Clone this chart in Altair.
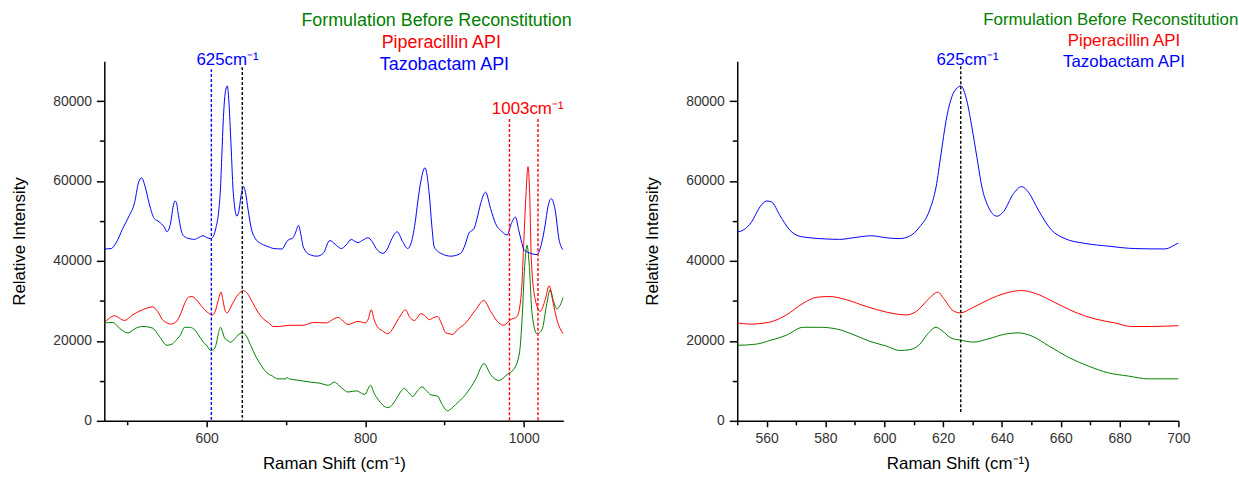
import altair as alt
import pandas as pd

# ---------------- data ----------------
SERIES = ["Formulation Before Reconstitution", "Piperacillin API", "Tazobactam API"]
COLORS = ["#008000", "#FF0000", "#0000FF"]

taz_x = [470.8, 479.6, 485.9, 494.2, 502.6, 508.8, 514.3, 518.0, 522.6, 527.7, 534.0, 540.2, 546.5,
         550.0, 552.0, 554.9, 557.7, 560.0, 561.7, 564.5, 567.9, 570.7, 574.7, 580.3, 584.8, 589.4,
         595.6, 600.7, 605.2, 608.6, 612.0, 615.4, 617.6, 619.3, 621.0, 623.3, 624.8, 626.0, 628.1,
         629.8, 631.5, 633.2, 635.4, 638.3, 640.5, 643.9, 646.7, 649.0, 652.4, 656.9, 661.4, 668.2,
         676.2, 685.2, 695.4, 700.1, 704.0, 708.0, 712.0, 716.0, 719.0, 722.0, 730.0, 739.0, 747.0,
         755.5, 762.0, 766.0, 770.0, 776.0, 782.6, 787.0, 791.0, 797.0, 803.5, 809.0, 814.0, 822.3,
         828.0, 832.8, 840.3, 847.4, 853.7, 858.0, 862.9, 866.5, 870.4, 875.4, 880.8, 884.0, 887.1,
         895.5, 908.0, 920.5, 926.0, 931.0, 937.3, 941.0, 945.6, 951.9, 958.2, 964.4, 972.8, 979.1,
         984.5, 989.5, 993.7, 997.0, 1000.0, 1006.2, 1016.7, 1023.0, 1027.0, 1030.5, 1034.7, 1039.7,
         1044.7, 1050.1]
taz_y = [43000, 43100, 44550, 48100, 51400, 54300, 59700, 60800, 58500, 54300, 50600, 49800, 48500,
         47300, 47700, 49800, 53500, 55000, 54750, 51400, 47700, 46300, 45800, 45500, 45400, 45800,
         46300, 45800, 45600, 46200, 48500, 52700, 58500, 66800, 75100, 81700, 83300, 83800, 80000,
         73400, 65900, 58500, 53500, 51200, 52300, 56800, 58600, 57200, 52700, 47700, 45600, 44400,
         43700, 43100, 43000, 44500, 45400, 45600, 47000, 48900, 46500, 43500, 41600, 41200, 41900,
         45100, 44200, 43500, 43100, 44000, 45400, 44900, 44600, 45200, 45800, 44800, 43100, 41900,
         43000, 45200, 47300, 44800, 43100, 44500, 49400, 55000, 60100, 63300, 56800, 49000, 43500,
         41900, 41200, 41900, 44000, 47000, 48100, 50500, 54300, 57200, 53100, 49400, 47300, 46500,
         49400, 51000, 47700, 45000, 42900, 42100, 41600, 44800, 49000, 53500, 55600, 52700,
         45200, 42700]

pip_x = [470.8, 477.5, 483.8, 490.0, 496.3, 506.8, 519.3, 531.8, 538.1, 544.4, 550.0, 554.3, 561.1,
         566.7, 572.4, 576.9, 581.4, 587.1, 593.9, 600.7, 607.5, 610.9, 614.3, 616.5, 618.2, 620.5,
         623.3, 625.8, 629.8, 635.4, 641.1, 646.7, 651.3, 658.0, 664.8, 671.6, 678.4, 684.0, 690.9,
         700.1, 705.3, 722.0, 734.6, 751.3, 758.0, 765.9, 772.0, 778.4, 791.0, 800.2, 804.0, 807.7,
         811.0, 815.2, 822.0, 828.6, 834.0, 839.0, 845.0, 850.8, 856.0, 862.0, 870.4, 876.0, 880.8,
         886.0, 891.3, 896.0, 901.7, 905.9, 910.1, 916.4, 926.8, 939.4, 949.8, 958.2, 968.6, 974.9,
         983.2, 991.6, 997.0, 1000.0, 1002.9, 1005.4, 1007.5, 1009.6, 1014.6, 1020.9, 1027.1, 1032.1,
         1036.3, 1041.8, 1050.1]
pip_y = [24500, 25700, 26300, 25700, 25100, 26500, 27800, 28500, 27400, 25300, 24500, 24200, 24700,
         26500, 29400, 30900, 31100, 30300, 28600, 27200, 26500, 27400, 29900, 31500, 32200, 30300,
         27600, 27000, 28200, 30300, 31900, 32600, 31900, 29600, 27200, 25500, 24500, 23600, 23600,
         23800, 23900, 23900, 24600, 24500, 25200, 25900, 25000, 24100, 24900, 24500, 25500, 27800,
         25500, 23600, 22500, 21800, 22800, 24500, 26500, 27800, 26000, 25100, 26800, 26200, 25300,
         25800, 26100, 24500, 22000, 21800, 21600, 22800, 24500, 27800, 30100, 27400, 24500, 23900,
         25300, 26100, 31900, 44400, 56800, 63600, 56800, 40200, 30300, 27400, 30300, 33800,
         30300, 25300, 21700]

form_x = [470.8, 481.7, 490.0, 500.5, 510.9, 519.3, 531.8, 540.2, 550.0, 556.6, 561.1, 566.7, 572.4,
          578.0, 583.7, 589.4, 595.0, 600.7, 605.2, 608.6, 612.0, 614.8, 617.6, 619.9, 622.7, 625.8,
          630.3, 635.4, 641.1, 645.6, 650.2, 655.8, 662.6, 669.4, 676.2, 683.0, 689.8, 700.1, 701.5,
          704.0, 713.7, 730.4, 742.9, 753.4, 761.7, 766.0, 770.1, 778.4, 788.9, 799.3, 806.9, 811.0,
          816.1, 828.6, 835.0, 839.0, 849.5, 855.0, 860.0, 866.0, 871.6, 877.0, 882.9, 891.3, 896.0,
          903.8, 910.1, 914.3, 926.8, 939.4, 949.8, 958.2, 964.0, 968.6, 979.1, 987.5, 994.6, 997.9,
          1001.2, 1004.1, 1007.1, 1010.4, 1016.7, 1023.0, 1029.2, 1033.4, 1037.6, 1041.8, 1050.1]
form_y = [24500, 24600, 23200, 22000, 23200, 23600, 23200, 21200, 18900, 19200, 20100, 21400, 23400,
          23400, 23000, 21600, 19900, 18700, 17600, 17800, 19100, 21800, 23400, 22400, 20700, 20200,
          19700, 20500, 21700, 22000, 21200, 18800, 15900, 13700, 12000, 11200, 10500, 10500, 10900,
          10500, 10200, 9700, 9400, 8900, 9700, 9000, 8300, 7200, 7500, 6600, 8900, 7000,
          5400, 3300, 4200, 5400, 8100, 7000, 6100, 7500, 8500, 7600, 6500, 6200, 4500,
          2500, 3300, 4100, 6600, 10400, 14300, 11600, 10400, 10100, 11600, 12900, 17000, 25300,
          38600, 44000, 38600, 27000, 21800, 22800, 29400, 32800, 29900, 28000, 31000]

# legend texts (centre positions in data units)
left_legend_x = [890, 896, 900]
left_legend_y = [100000, 94500, 89100]
right_legend_x = [677, 681.5, 681.5]
right_legend_y = [100300, 95100, 89800]

# dashed marker lines
left_marks_x = [606, 645, 982, 1018]
left_marks_top = [88000, 88500, 75500, 75500]
left_marks_bottom = [0, 0, 0, 0]
left_marks_color = ["#0000FF", "#000000", "#FF0000", "#FF0000"]
right_marks_x = [626]
right_marks_top = [88700]
right_marks_bottom = [1800]
right_marks_color = ["#000000"]

# peak labels
left_labels = ["625cm\u207b\u00b9", "1003cm\u207b\u00b9"]
left_labels_x = [626.5, 1005]
left_labels_y = [90400, 78100]
left_labels_color = ["#0000FF", "#FF0000"]
right_labels = ["625cm\u207b\u00b9"]
right_labels_x = [628.3]
right_labels_y = [90400]
right_labels_color = ["#0000FF"]

# ---------------- tables ----------------
spec = pd.concat([
    pd.DataFrame({"shift": form_x, "intensity": form_y, "series": SERIES[0], "order": 0}),
    pd.DataFrame({"shift": pip_x, "intensity": pip_y, "series": SERIES[1], "order": 1}),
    pd.DataFrame({"shift": taz_x, "intensity": taz_y, "series": SERIES[2], "order": 2}),
], ignore_index=True)

FONT = "Liberation Sans"
XTITLE = "Raman Shift (cm\u207b\u00b9)"
YTITLE = "Relative Intensity"


def x_enc(domain, values, step, field="shift"):
    return alt.X(
        f"{field}:Q",
        title=XTITLE,
        scale=alt.Scale(domain=domain, nice=False, zero=False),
        axis=alt.Axis(
            values=values,
            labelExpr=f"datum.value % {step} === 0 ? datum.label : ''",
            tickSize={"condition": {"test": f"datum.value % {step} === 0", "value": 6}, "value": 4},
            format="d",
            labelPadding=5,
            titlePadding=10,
            labelFlush=False,
            labelOverlap=False,
        ),
    )


def y_enc(field="intensity"):
    return alt.Y(
        f"{field}:Q",
        title=YTITLE,
        scale=alt.Scale(domain=[0, 90000], nice=False, zero=True),
        axis=alt.Axis(
            values=list(range(0, 90000, 10000)),
            labelExpr="datum.value % 20000 === 0 ? datum.label : ''",
            tickSize={"condition": {"test": "datum.value % 20000 === 0", "value": 8}, "value": 5},
            format="d",
            labelPadding=5,
            titlePadding=24,
            labelOverlap=False,
        ),
    )


def panel(domain, xvalues, step, legend_x, legend_y, mx, mtop, mbot, mcol, lab, labx, laby, labcol,
          width, legend_size):
    lines = alt.Chart(spec).mark_line(strokeWidth=1, clip=True, interpolate="monotone").encode(
        x=x_enc(domain, xvalues, step),
        y=y_enc(),
        color=alt.Color("series:N", scale=alt.Scale(domain=SERIES, range=COLORS), legend=None),
        order=alt.Order("order:Q"),
        detail="series:N",
    )
    marks_df = pd.DataFrame({"mx": mx, "top": mtop, "bot": mbot, "col": mcol})
    rules = alt.Chart(marks_df).mark_rule(strokeDash=[3, 2], strokeWidth=1.4).encode(
        x=x_enc(domain, xvalues, step, "mx"),
        y=y_enc("top"),
        y2="bot:Q",
        color=alt.Color("col:N", scale=None),
    )
    leg_df = pd.DataFrame({"tx": legend_x, "ty": legend_y, "label": SERIES, "col": COLORS})
    leg = alt.Chart(leg_df).mark_text(font=FONT, fontSize=legend_size, align="center", baseline="middle").encode(
        x=x_enc(domain, xvalues, step, "tx"),
        y=y_enc("ty"),
        text="label:N",
        color=alt.Color("col:N", scale=None),
    )
    lab_df = pd.DataFrame({"tx": labx, "ty": laby, "label": lab, "col": labcol})
    labs = alt.Chart(lab_df).mark_text(font=FONT, fontSize=17, align="center", baseline="middle").encode(
        x=x_enc(domain, xvalues, step, "tx"),
        y=y_enc("ty"),
        text="label:N",
        color=alt.Color("col:N", scale=None),
    )
    return alt.layer(lines, rules, leg, labs).properties(width=width, height=362)


left = panel([471, 1050], list(range(500, 1001, 100)), 200,
             left_legend_x, left_legend_y, left_marks_x, left_marks_top, left_marks_bottom,
             left_marks_color, left_labels, left_labels_x, left_labels_y, left_labels_color, 462, 18)
right = panel([550, 700], list(range(550, 701, 10)), 20,
              right_legend_x, right_legend_y, right_marks_x, right_marks_top, right_marks_bottom,
              right_marks_color, right_labels, right_labels_x, right_labels_y, right_labels_color, 444, 17)

chart = alt.hconcat(left, right, spacing=72).properties(
    padding={"left": 11, "top": 9, "right": 0, "bottom": 0},
    background="white",
).configure_view(stroke=None).configure_axis(
    grid=False,
    domainColor="#000000",
    domainWidth=1.5,
    tickColor="#000000",
    tickWidth=1.5,
    labelColor="#333333",
    labelFont=FONT,
    labelFontSize=14,
    titleFont=FONT,
    titleFontSize=17,
    titleFontWeight="normal",
    titleColor="#000000",
).configure_text(font=FONT)

chart.save("out.html", embed_options={"renderer": "svg", "actions": False})
